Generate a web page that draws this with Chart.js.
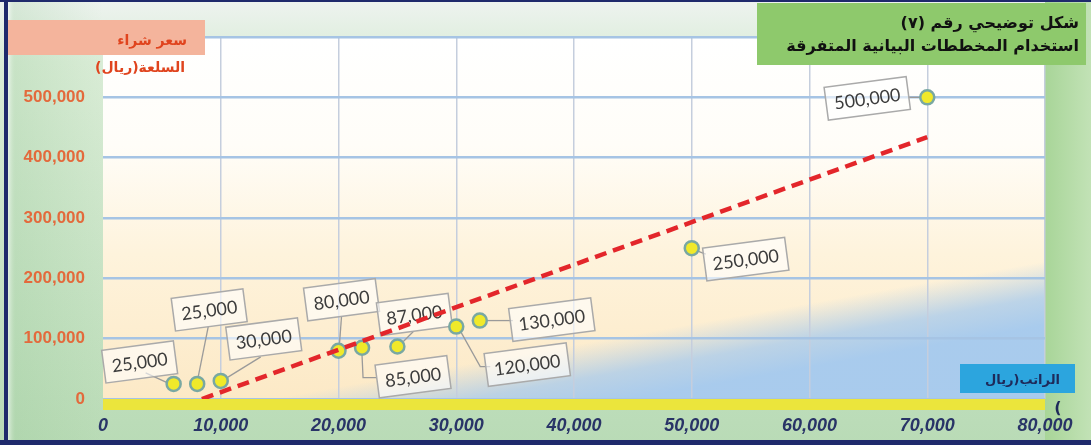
<!DOCTYPE html>
<html>
<head>
<meta charset="utf-8">
<script src="https://cdn.jsdelivr.net/npm/chart.js@4.4.1/dist/chart.umd.min.js"></script>
<style>
  html, body { margin: 0; padding: 0; background: #fff; overflow: hidden; }
</style>
</head>
<body>
<canvas id="scatterChart" width="1091" height="445"></canvas>
<script>
// DATA

const salary = [6000, 8000, 10000, 20000, 22000, 25000, 30000, 32000, 50000, 70000];
const price = [25000, 25000, 30000, 80000, 85000, 87000, 120000, 130000, 250000, 500000];

// ends of the dashed trend line
const trendSalary = [8400, 70000];
const trendPrice = [0, 434000];

const xMin = 0, xMax = 80000, xStep = 10000;
const yMin = 0, yMax = 600000, yStep = 100000;

const titleLines = ["شكل توضيحي رقم (٧)", "استخدام المخططات البيانية المتفرقة"];
const yTitle = ["سعر شراء", "السلعة(ريال)"];
// the closing bracket wraps onto its own line and shows mirrored
const xTitle = ["الراتب(ريال", "("];

// value boxes: offset of the box centre from its point, and the leader line (also relative to the point)
const labelBoxes = [
  { dx: -34, dy: -22, leader: [[-6, -1], [-28, -11]] },
  { dx: 12, dy: -74, leader: [[1, -7], [11, -57]] },
  { dx: 43, dy: -42, leader: [[6, -3], [40, -24]] },
  { dx: 3, dy: -51, leader: [[1, -7], [3, -34]] },
  { dx: 51, dy: 29, leader: [[0, 8], [1, 30], [14, 30]] },
  { dx: 17, dy: -32, leader: [[6, -5], [16, -15]] },
  { dx: 71, dy: 38, leader: [[5, 6], [24, 40], [34, 40]] },
  { dx: 72, dy: -1, leader: [[8, 0], [33, 0]] },
  { dx: 54, dy: 11, leader: [[6, 3], [14, 6]] },
  { dx: -60, dy: 1, leader: [[-19, 0], [-7, 0]] }
];

const fmt = v => v.toLocaleString("en-US");


// BACKGROUND

const backdrop = {
  id: "backdrop",
  beforeDraw(chart) {
    const { ctx, width, height, chartArea: ca } = chart;
    ctx.save();

    let g = ctx.createLinearGradient(0, 0, 0, height);
    g.addColorStop(0, "#eef3f0");
    g.addColorStop(0.14, "#d9ecd6");
    g.addColorStop(1, "#b9dbb6");
    ctx.fillStyle = g;
    ctx.fillRect(0, 0, width, height);

    g = ctx.createLinearGradient(8, 0, ca.left, 0);
    g.addColorStop(0, "rgba(245,250,245,0.6)");
    g.addColorStop(0.08, "rgba(150,200,150,0.25)");
    g.addColorStop(1, "rgba(150,200,150,0)");
    ctx.fillStyle = g;
    ctx.fillRect(8, 0, ca.left - 8, height);

    g = ctx.createLinearGradient(ca.right, 0, width, 0);
    g.addColorStop(0, "#a8d598");
    g.addColorStop(1, "#c2e2b6");
    ctx.fillStyle = g;
    ctx.fillRect(ca.right, 0, width - ca.right, height);

    // plot area: white fading to cream
    g = ctx.createLinearGradient(0, ca.top, 0, ca.bottom);
    g.addColorStop(0, "#ffffff");
    g.addColorStop(0.3, "#fffdf8");
    g.addColorStop(0.6, "#fef3dc");
    g.addColorStop(1, "#fce9c6");
    ctx.fillStyle = g;
    ctx.fillRect(ca.left, ca.top, ca.width, ca.height);

    // blue wash in the lower right
    g = ctx.createLinearGradient(794, 306, 805, 368);
    g.addColorStop(0, "rgba(166,202,238,0)");
    g.addColorStop(0.55, "rgba(166,202,238,0.75)");
    g.addColorStop(1, "rgba(166,202,238,0.97)");
    ctx.fillStyle = g;
    ctx.fillRect(ca.left, ca.top, ca.width, ca.height);

    ctx.restore();
  }
};


// VALUE BOXES + AXIS BAND

const valueBoxes = {
  id: "valueBoxes",
  beforeDatasetsDraw(chart) {
    const { ctx, chartArea: ca, scales: { x, y } } = chart;
    ctx.save();

    // yellow band along the x axis
    ctx.fillStyle = "#ebe53c";
    ctx.fillRect(ca.left, ca.bottom, ca.width, 11);

    ctx.font = "18px Lato";
    price.forEach((v, i) => {
      const px = x.getPixelForValue(salary[i]);
      const py = y.getPixelForValue(v);
      const b = labelBoxes[i];

      ctx.strokeStyle = "#9a9a9a";
      ctx.lineWidth = 1.3;
      ctx.beginPath();
      b.leader.forEach(([lx, ly], k) => {
        if (k === 0) ctx.moveTo(px + lx, py + ly);
        else ctx.lineTo(px + lx, py + ly);
      });
      ctx.stroke();

      const text = fmt(v);
      const w = ctx.measureText(text).width + 16;
      const h = 33;
      ctx.save();
      ctx.translate(px + b.dx, py + b.dy);
      ctx.rotate(-7.5 * Math.PI / 180);
      ctx.fillStyle = "rgba(255,255,255,0.6)";
      ctx.fillRect(-w / 2, -h / 2, w, h);
      ctx.strokeStyle = "#aaaaaa";
      ctx.lineWidth = 1.5;
      ctx.strokeRect(-w / 2, -h / 2, w, h);
      ctx.fillStyle = "#3c3c3c";
      ctx.textAlign = "center";
      ctx.textBaseline = "middle";
      ctx.fillText(text, 0, 1);
      ctx.restore();
    });

    ctx.restore();
  }
};


// TITLES + FRAME

const overlay = {
  id: "overlay",
  afterDraw(chart) {
    const { ctx, width, height } = chart;
    ctx.save();

    // title panel
    ctx.fillStyle = "#8ec96c";
    ctx.fillRect(757, 3, 329, 62);
    ctx.direction = "rtl";
    ctx.textAlign = "right";
    ctx.textBaseline = "middle";
    ctx.fillStyle = "#111111";
    ctx.font = 'bold 16px "DejaVu Sans"';
    ctx.fillText(titleLines[0], 1079, 24);
    ctx.fillText(titleLines[1], 1079, 47);

    // y axis title
    ctx.fillStyle = "#f4b49c";
    ctx.fillRect(8, 20, 197, 35);
    ctx.fillStyle = "#e0441e";
    ctx.font = 'bold 14px "DejaVu Sans"';
    ctx.fillText(yTitle[0], 187, 41);
    ctx.fillText(yTitle[1], 185, 68);

    // x axis title
    ctx.fillStyle = "#2ca5de";
    ctx.fillRect(960, 364, 115, 29);
    ctx.fillStyle = "#1e2a5a";
    ctx.font = 'bold 13px "DejaVu Sans"';
    ctx.fillText(xTitle[0], 1060, 381);
    ctx.direction = "ltr";
    ctx.textAlign = "center";
    ctx.font = 'bold 16px "DejaVu Sans"';
    ctx.fillText(xTitle[1], 1058, 409);

    // outer frame
    ctx.fillStyle = "#1f2a6c";
    ctx.fillRect(0, 0, width, 2);
    ctx.fillRect(4, 0, 4, height);
    ctx.fillRect(0, height - 5, width, 5);

    ctx.restore();
  }
};


// CHART

new Chart(document.getElementById("scatterChart"), {
  type: "scatter",
  data: {
    datasets: [
      {
        label: "trend",
        data: trendSalary.map((s, i) => ({ x: s, y: trendPrice[i] })),
        showLine: true,
        borderColor: "#e3262b",
        borderWidth: 4.5,
        borderDash: [12, 7],
        pointRadius: 0,
        order: 0
      },
      {
        label: "price",
        data: salary.map((s, i) => ({ x: s, y: price[i] })),
        pointRadius: 7,
        pointHoverRadius: 7,
        backgroundColor: "#f0e92a",
        borderColor: "#79a8a2",
        borderWidth: 2.5,
        order: 1
      }
    ]
  },
  options: {
    responsive: false,
    animation: false,
    devicePixelRatio: 1,
    layout: { padding: { top: 37, right: 46, left: 0, bottom: 0 } },
    plugins: {
      legend: { display: false },
      tooltip: { enabled: false }
    },
    scales: {
      x: {
        type: "linear",
        min: xMin,
        max: xMax,
        border: { display: false },
        grid: {
          drawTicks: false,
          lineWidth: 1.5,
          color: ctx => ctx.tick && ctx.tick.value === 0 ? "rgba(0,0,0,0)" : "#c5cedd"
        },
        ticks: {
          stepSize: xStep,
          padding: 16,
          color: "#293467",
          font: { family: "Liberation Sans", size: 18, weight: "bold", style: "italic" },
          callback: v => fmt(v)
        },
        afterFit: scale => { scale.height = 46; }
      },
      y: {
        min: yMin,
        max: yMax,
        border: { display: false },
        grid: {
          drawTicks: false,
          lineWidth: 2.5,
          color: "#a6c4e4"
        },
        ticks: {
          stepSize: yStep,
          padding: 18,
          color: "#e36a3c",
          font: { family: "Liberation Sans", size: 17, weight: "bold" },
          callback: v => fmt(v)
        },
        afterFit: scale => { scale.width = 103; }
      }
    }
  },
  plugins: [backdrop, valueBoxes, overlay]
});
</script>
</body>
</html>
